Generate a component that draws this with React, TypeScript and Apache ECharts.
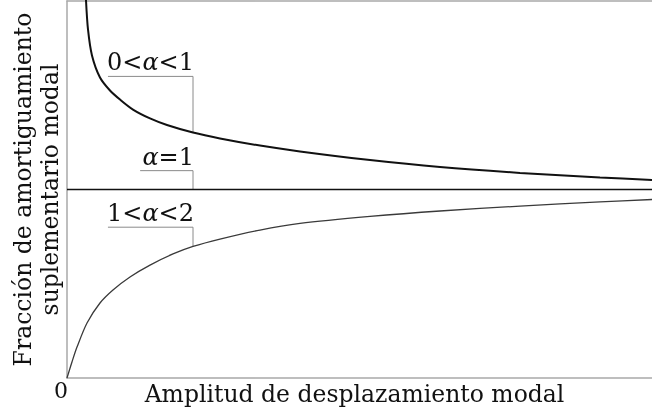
import React, { useEffect, useRef } from "react";
import * as echarts from "echarts";

// 0 < alpha < 1: modal displacement amplitude and supplemental modal damping ratio
// (the first point lies just above the plotted range)
const AMPLITUD_A = [0.31, 0.325, 0.359, 0.427, 0.564, 0.735, 0.906, 1.128, 1.419, 1.709, 2.154, 2.615, 3.299, 3.983, 5.18, 6.376, 7.744, 9.111, 10];
const FRAC_0_1 = [2.14, 2.003, 1.849, 1.711, 1.594, 1.525, 1.477, 1.424, 1.377, 1.342, 1.302, 1.271, 1.233, 1.202, 1.156, 1.119, 1.088, 1.064, 1.05];

// 1 < alpha < 2
const AMPLITUD_B = [0, 0.085, 0.171, 0.342, 0.564, 0.786, 1.077, 1.419, 1.812, 2.154, 2.615, 3.299, 3.983, 5.18, 6.376, 7.744, 9.111, 10];
const FRAC_1_2 = [0, 0.085, 0.164, 0.292, 0.398, 0.467, 0.536, 0.599, 0.658, 0.698, 0.737, 0.785, 0.82, 0.857, 0.886, 0.912, 0.934, 0.947];

// alpha = 1 (linear damper): constant ratio
const AMPLITUD_C = [0, 10];
const FRAC_1 = [1, 1];

const X_MAX = 10;
const Y_MAX = 2;

const FONT = '"DejaVu Serif", "Liberation Serif", serif';
const TEXT = "#111";
const AXIS_GRAY = "#a8a8a8";
const LEADER_GRAY = "#8a8a8a";

// Leader lines: label text, the curve point they point at, and where the horizontal leg runs
const CALLOUTS = [
  { text: "0<{a|α}<1", target: () => [AMPLITUD_A[10], FRAC_0_1[10]], legY: 1.6, legX0: 0.7 },
  { text: "{a|α}=1", target: () => [AMPLITUD_A[10], FRAC_1[0]], legY: 1.1, legX0: 1.25 },
  { text: "1<{a|α}<2", target: () => [AMPLITUD_B[9], FRAC_1_2[9]], legY: 0.8, legX0: 0.7 },
];

export default function App() {
  const ref = useRef<HTMLDivElement>(null);

  useEffect(() => {
    document.body.style.margin = "0";
    const chart = echarts.init(ref.current!, null, { renderer: "svg" });

    const hiddenAxisParts = {
      axisTick: { show: false },
      splitLine: { show: false },
    };

    chart.setOption({
      animation: false,
      grid: { left: 67, right: 0, top: 1, bottom: 36, outerBoundsMode: "none", containLabel: false },
      xAxis: [
        {
          type: "value",
          min: 0,
          max: X_MAX,
          interval: X_MAX,
          position: "bottom",
          axisLine: { show: true, lineStyle: { color: AXIS_GRAY, width: 1.5 } },
          ...hiddenAxisParts,
          axisLabel: {
            formatter: (v: number) => (v === 0 ? "0" : ""),
            fontFamily: FONT,
            fontSize: 22,
            color: TEXT,
            margin: 1,
            padding: [0, 12, 0, 0],
          },
          name: "Amplitud de desplazamiento modal",
          nameLocation: "middle",
          nameGap: 4,
          nameMoveOverlap: false,
          nameTextStyle: {
            fontFamily: FONT,
            fontSize: 23.5,
            color: TEXT,
            verticalAlign: "top",
            padding: [0, 10, 0, 0],
          },
        },
        {
          type: "value",
          min: 0,
          max: X_MAX,
          position: "top",
          axisLine: { show: true, onZero: false, lineStyle: { color: AXIS_GRAY, width: 1.5 } },
          ...hiddenAxisParts,
          axisLabel: { show: false },
        },
      ],
      yAxis: {
        type: "value",
        min: 0,
        max: Y_MAX,
        axisLine: { show: true, lineStyle: { color: AXIS_GRAY, width: 1.5 } },
        ...hiddenAxisParts,
        axisLabel: { show: false },
        name: "Fracción de amortiguamiento\nsuplementario modal",
        nameLocation: "middle",
        nameRotate: 90,
        nameGap: 4,
        nameMoveOverlap: false,
        nameTextStyle: {
          fontFamily: FONT,
          fontSize: 23.5,
          lineHeight: 27,
          color: TEXT,
          verticalAlign: "bottom",
        },
      },
      series: [
        {
          type: "line",
          name: "0<α<1",
          data: AMPLITUD_A.map((x, i) => [x, FRAC_0_1[i]]),
          showSymbol: false,
          smooth: 0.3,
          clip: true,
          lineStyle: { color: "#111", width: 2 },
        },
        {
          type: "line",
          name: "α=1",
          data: AMPLITUD_C.map((x, i) => [x, FRAC_1[i]]),
          showSymbol: false,
          lineStyle: { color: "#111", width: 1.5 },
        },
        {
          type: "line",
          name: "1<α<2",
          data: AMPLITUD_B.map((x, i) => [x, FRAC_1_2[i]]),
          showSymbol: false,
          smooth: 0.3,
          lineStyle: { color: "#3a3a3a", width: 1.3 },
        },
      ],
    });

    const toPx = (p: number[]) =>
      chart.convertToPixel({ xAxisIndex: 0, yAxisIndex: 0 }, p) as number[];

    const graphic: any[] = [];
    CALLOUTS.forEach((c) => {
      const t = c.target();
      const tp = toPx(t);
      const corner = toPx([t[0], c.legY]);
      const start = toPx([c.legX0, c.legY]);
      graphic.push({
        type: "polyline",
        shape: { points: [start, corner, tp] },
        style: { stroke: LEADER_GRAY, lineWidth: 1, fill: null },
        silent: true,
      });
      graphic.push({
        type: "text",
        x: corner[0] + 1,
        y: corner[1] - 2,
        style: {
          text: c.text,
          fontFamily: FONT,
          fontSize: 24,
          fill: TEXT,
          align: "right",
          verticalAlign: "bottom",
          rich: {
            a: { fontFamily: FONT, fontSize: 24, fontStyle: "italic", fill: TEXT },
          },
        },
        silent: true,
      });
    });
    chart.setOption({ graphic });

    return () => chart.dispose();
  }, []);

  return (
    <div
      ref={ref}
      style={{ position: "fixed", left: 0, top: 0, width: 652, height: 414 }}
    />
  );
}
